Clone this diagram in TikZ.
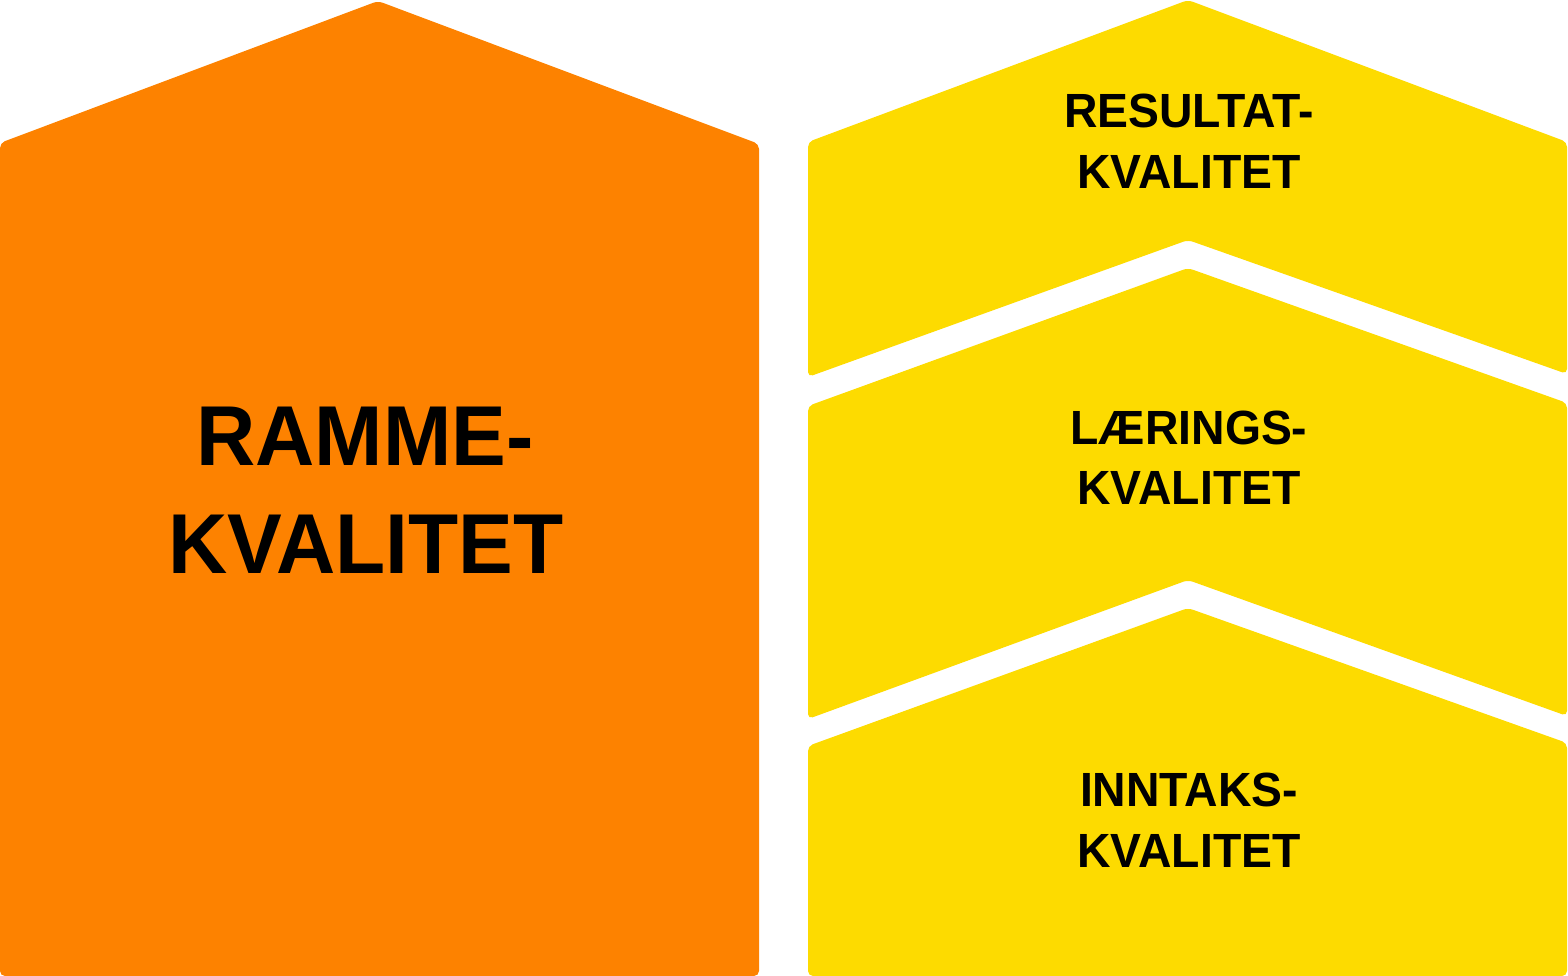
\documentclass[tikz,border=0pt]{standalone}
\usepackage{fontspec}
\setmainfont{Liberation Sans}
\newfontfamily\labelfont[FakeStretch=0.965]{Liberation Sans}
\definecolor{ramme}{RGB}{253,130,0}
\definecolor{gul}{RGB}{253,219,0}
\begin{document}
\begin{tikzpicture}[x=1pt,y=-1pt,
  block/.style={rounded corners=5pt},
  bigtxt/.style={anchor=base,inner sep=0pt,font=\labelfont\fontsize{85}{85}\selectfont\bfseries,text=black},
  smalltxt/.style={anchor=base,inner sep=0pt,font=\labelfont\fontsize{48}{48}\selectfont\bfseries,text=black}]
\useasboundingbox (0,0) rectangle (1568,976);
% orange house
\fill[ramme,block] (0,976) -- (0,143) -- (378,1) -- (759,144) -- (759,976) -- cycle;
% yellow blocks
\fill[gul,block] (808,142) -- (1188,0) -- (1567,142) -- (1567,374) -- (1188,240) -- (808,377) -- cycle;
\fill[gul,block] (808,406) -- (1188,268) -- (1567,403) -- (1567,716) -- (1188,580) -- (808,719) -- cycle;
\fill[gul,block] (808,746) -- (1188,608) -- (1567,743) -- (1567,976) -- (808,976) -- cycle;
% texts
\node[bigtxt] (r1) at (365,465) {RAMME-};
\node[bigtxt] (r2) at (366,573) {KVALITET};
\node[smalltxt] (a1) at (1189,128) {RESULTAT-};
\node[smalltxt] (a2) at (1189,189) {KVALITET};
\node[smalltxt] (b1) at (1189,444) {LÆRINGS-};
\node[smalltxt] (b2) at (1189,504) {KVALITET};
\node[smalltxt] (c1) at (1189,806) {INNTAKS-};
\node[smalltxt] (c2) at (1189,867) {KVALITET};
\end{tikzpicture}
\end{document}
